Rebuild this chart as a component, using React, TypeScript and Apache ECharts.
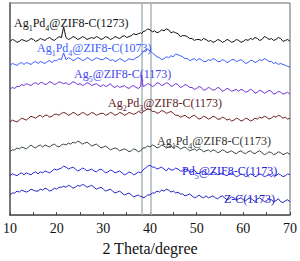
import React, { useEffect, useRef } from "react";
import * as echarts from "echarts";

// 2θ sampling grid (degrees)
const theta = [
  10, 10.5, 11, 11.5, 12, 12.5, 13, 13.5, 14, 14.5, 15, 15.5, 16, 16.5, 17, 17.5, 18, 18.5, 19, 19.5, 20, 20.5, 21,
  21.5,
  22, 22.5, 23, 23.5, 24, 24.5, 25, 25.5, 26, 26.5, 27, 27.5, 28, 28.5, 29, 29.5, 30, 30.5, 31, 31.5, 32, 32.5, 33,
  33.5, 34, 34.5, 35, 35.5, 36, 36.5, 37, 37.5, 38,
  38.2, 38.5,
  39, 39.5, 40, 40.5, 41, 41.5, 42, 42.5, 43, 43.5, 44, 44.5, 45, 45.5, 46, 46.5, 47, 47.5, 48, 48.5, 49, 49.5, 50,
  50.5, 51, 51.5, 52, 52.5, 53, 53.5, 54, 54.5, 55, 55.5, 56, 56.5, 57, 57.5, 58, 58.5, 59, 59.5, 60, 60.5, 61, 61.5,
  62, 62.5, 63, 63.5, 64, 64.5, 65, 65.5, 66, 66.5, 67, 67.5, 68, 68.5, 69, 69.5, 70,
];

// stacked intensities (offset, arbitrary units)
const ag1pd4_1273 = [
  181, 183, 182, 180, 181, 183, 182, 181, 182, 184, 183, 181, 182, 184, 183, 182, 184, 185, 183, 182, 184, 186, 185,
  196,
  185, 183, 184, 186, 185, 183, 184, 186, 185, 183, 184, 185, 184, 186, 185, 183, 184, 186, 185, 183, 184, 186, 185,
  184, 186, 187, 185, 186, 187, 189, 188, 189, 190,
  189, 191,
  192, 194, 193, 191, 192, 190, 191, 193, 192, 194, 193, 190, 191, 190, 189, 186, 187, 187, 186, 184, 184, 182, 183,
  183, 182, 184, 183, 181, 182, 180, 181, 183, 182, 180, 181, 183, 182, 180, 181, 183, 182, 180, 181, 183, 182, 184,
  183, 185, 184, 182, 183, 186, 185, 183, 184, 182, 183, 185, 184, 181, 182, 183, 181,
];
const ag1pd4_1073 = [
  156, 158, 157, 156, 158, 159, 157, 159, 158, 157, 159, 160, 158, 160, 159, 158, 160, 161, 159, 161, 161, 163, 162,
  169,
  162, 164, 163, 161, 162, 164, 163, 161, 162, 164, 163, 161, 162, 164, 163, 162, 162, 164, 163, 161, 162, 160, 161,
  163, 162, 160, 161, 163, 162, 162, 164, 165, 167,
  168, 170,
  172, 173, 171, 169, 167, 165, 164, 162, 163, 165, 164, 166, 165, 168, 167, 166, 165, 163, 163, 161, 162, 163, 161,
  163, 162, 160, 160, 162, 161, 163, 162, 160, 160, 162, 161, 159, 160, 162, 162, 160, 161, 162, 160, 158, 159, 161,
  161, 159, 160, 162, 161, 163, 162, 160, 160, 158, 159, 157, 158, 157, 156, 155, 154,
];
const ag5_1173 = [
  131, 133, 132, 134, 134, 136, 135, 137, 136, 135, 137, 138, 136, 138, 138, 136, 137, 139, 138, 136, 137, 139, 138,
  137,
  138, 136, 137, 139, 138, 136, 137, 135, 136, 138, 137, 135, 136, 137, 135, 134, 136, 134, 135, 137, 134, 133, 135,
  133, 134, 135, 133, 132, 134, 135, 133, 132, 134,
  146, 134,
  135, 137, 136, 134, 135, 138, 137, 135, 136, 138, 137, 134, 135, 137, 136, 133, 134, 136, 135, 133, 133, 131, 132,
  134, 133, 130, 131, 133, 132, 130, 131, 133, 132, 129, 130, 132, 131, 129, 130, 131, 129, 131, 130, 128, 129, 131,
  130, 127, 128, 130, 129, 127, 128, 130, 129, 126, 127, 129, 128, 126, 127, 128, 126,
];
const ag2pd3_1173 = [
  97, 99, 98, 97, 99, 101, 100, 99, 101, 103, 102, 101, 103, 104, 102, 104, 104, 102, 103, 105, 105, 104, 106,
  107,
  106, 104, 105, 107, 106, 104, 105, 107, 106, 104, 105, 107, 106, 104, 105, 106, 106, 104, 105, 107, 106, 104, 105,
  107, 106, 104, 105, 107, 106, 105, 106, 108, 107,
  106, 108,
  109, 111, 110, 108, 108, 106, 107, 109, 108, 106, 107, 108, 106, 104, 104, 102, 103, 104, 102, 101, 103, 104, 102,
  100, 101, 103, 102, 100, 101, 103, 102, 100, 100, 102, 101, 99, 100, 98, 99, 101, 100, 98, 99, 101, 100, 98,
  99, 101, 100, 102, 101, 103, 102, 100, 101, 103, 102, 104, 103, 101, 102, 100, 101,
];
const ag1pd4_1173 = [
  66, 68, 68, 70, 69, 71, 70, 69, 71, 73, 71, 70, 72, 73, 71, 73, 72, 71, 73, 74, 72, 71, 73,
  74,
  73, 75, 74, 76, 75, 77, 76, 74, 75, 76, 74, 72, 73, 74, 72, 70, 71, 72, 70, 68, 69, 70, 69,
  67, 68, 69, 68, 66, 67, 69, 68, 66, 67,
  68, 70,
  70, 72, 71, 73, 72, 70, 71, 73, 72, 70, 71, 72, 70, 72, 71, 69, 70, 71, 69, 67, 68, 69, 67,
  69, 68, 66, 67, 68, 66, 68, 67, 65, 66, 68, 67, 65, 66, 67, 65, 64, 66, 67, 65, 64, 66, 67,
  65, 64, 66, 67, 65, 63, 64, 66, 65, 63, 64, 66, 65, 63, 64, 65, 63,
];
const pd5_1173 = [
  41, 43, 42, 41, 43, 44, 42, 44, 43, 42, 44, 45, 43, 45, 44, 46, 45, 44, 46, 48, 47, 48, 49,
  51,
  50, 48, 49, 50, 48, 46, 47, 49, 48, 46, 47, 48, 46, 45, 47, 48, 46, 44, 45, 47, 46, 44, 45,
  46, 44, 42, 43, 45, 44, 42, 43, 45, 44,
  45, 47,
  49, 51, 52, 50, 50, 48, 49, 50, 48, 46, 49, 47, 47, 49, 48, 46, 46, 48, 47, 45, 45, 47, 44,
  43, 45, 46, 44, 42, 43, 45, 44, 42, 43, 44, 42, 41, 43, 44, 42, 40, 41, 43, 42, 40, 41, 43,
  42, 40, 41, 43, 42, 40, 41, 42, 40, 42, 41, 43, 42, 40, 41, 43, 42,
];
const zc_1173 = [
  21, 23, 23, 25, 24, 26, 25, 24, 25, 27, 26, 25, 25, 27, 26, 28, 27, 25, 26, 28, 27, 29, 29,
  30,
  29, 31, 30, 28, 29, 31, 30, 32, 31, 29, 30, 31, 29, 27, 28, 29, 27, 25, 26, 27, 25, 23, 24,
  25, 23, 21, 22, 23, 21, 19, 20, 21, 19,
  20, 18,
  19, 21, 21, 23, 23, 25, 24, 26, 25, 27, 26, 24, 25, 23, 24, 22, 22, 20, 21, 22, 20, 18, 19,
  21, 19, 18, 20, 18, 19, 20, 18, 17, 19, 20, 18, 16, 17, 19, 18, 16, 17, 18, 16, 15, 17, 18,
  16, 14, 17, 18, 16, 14, 15, 17, 16, 14, 15, 17, 14, 13, 15, 16, 14,
];

// reference lines: Ag(111), Pd(111)
const refLines = [38.2, 40.1];

const xTicks = { min: 10, max: 70, interval: 10 };

const seriesDefs = [
  { name: "Ag1Pd4@ZIF8-C(1273)", data: ag1pd4_1273, color: "#111111" },
  { name: "Ag1Pd4@ZIF8-C(1073)", data: ag1pd4_1073, color: "#3a5cff" },
  { name: "Ag5@ZIF8-C(1173)", data: ag5_1173, color: "#7030dc" },
  { name: "Ag2Pd3@ZIF8-C(1173)", data: ag2pd3_1173, color: "#6a1f22" },
  { name: "Ag1Pd4@ZIF8-C(1173)", data: ag1pd4_1173, color: "#3a4646" },
  { name: "Pd5@ZIF8-C(1173)", data: pd5_1173, color: "#2a2ae0" },
  { name: "Z-C(1173)", data: zc_1173, color: "#2424c4" },
];

// labels: text parts [main, sub, main, sub, ...]
const labelDefs = [
  { parts: ["Ag", "1", "Pd", "4", "@ZIF8-C(1273)"], x: 14, y: 23, color: "#111111" },
  { parts: ["Ag", "1", "Pd", "4", "@ZIF8-C(1073)"], x: 37, y: 48, color: "#3a5cff" },
  { parts: ["Ag", "5", "@ZIF8-C(1173)"], x: 74, y: 74, color: "#4444ee" },
  { parts: ["Ag", "2", "Pd", "3", "@ZIF8-C(1173)"], x: 108, y: 103, color: "#5a1a1e" },
  { parts: ["Ag", "1", "Pd", "4", "@ZIF8-C(1173)"], x: 157, y: 141, color: "#333333" },
  { parts: ["Pd", "5", "@ZIF8-C(1173)"], x: 182, y: 171, color: "#2222dd" },
  { parts: ["Z-C(1173)"], x: 224, y: 199, color: "#2222cc" },
];

const FONT = "'Liberation Serif', 'Times New Roman', serif";

export default function App() {
  const ref = useRef<HTMLDivElement>(null);

  useEffect(() => {
    if (!ref.current) return;
    const chart = echarts.init(ref.current, undefined, { renderer: "svg" });

    const series: any[] = seriesDefs.map((s, idx) => ({
      type: "line",
      name: s.name,
      data: theta.map((t, i) => [t, s.data[i]]),
      showSymbol: false,
      symbol: "none",
      lineStyle: { color: s.color, width: 1 },
      z: 3,
      ...(idx === 0
        ? {
            markLine: {
              silent: true,
              symbol: "none",
              label: { show: false },
              lineStyle: { color: "#a8b6bf", width: 1.5, type: "solid" },
              data: refLines.map((v) => ({ xAxis: v })),
              z: 1,
            },
          }
        : {}),
    }));

    const graphic = labelDefs.map((l) => {
      const rich: any = {};
      rich.m = { fontSize: 12, fontFamily: FONT, fill: l.color, verticalAlign: "middle", lineHeight: 18 };
      rich.s = { fontSize: 8, fontFamily: FONT, fill: l.color, verticalAlign: "bottom", lineHeight: 18 };
      const text = l.parts
        .map((p, i) => (i % 2 === 0 ? `{m|${p}}` : `{s|${p}}`))
        .join("");
      return {
        type: "text",
        x: l.x,
        y: l.y,
        z: 10,
        style: {
          text,
          rich,
          fill: l.color,
          font: `12px ${FONT}`,
          align: "left",
          verticalAlign: "middle",
        },
      };
    });

    chart.setOption({
      animation: false,
      grid: {
        left: 6,
        right: 8,
        top: 3,
        bottom: 37,
        show: true,
        borderColor: "#666",
        borderWidth: 1,
        backgroundColor: "transparent",
      },
      xAxis: {
        type: "value",
        min: xTicks.min,
        max: xTicks.max,
        interval: xTicks.interval,
        name: "2 Theta/degree",
        nameLocation: "middle",
        nameGap: 21,
        nameTextStyle: { fontFamily: FONT, fontSize: 16, color: "#111" },
        axisLine: { show: true, lineStyle: { color: "#555", width: 1.5 } },
        axisTick: { show: true, inside: true, length: 3, lineStyle: { color: "#444" } },
        minorTick: { show: true, splitNumber: 2, length: 3, lineStyle: { color: "#444" } },
        axisLabel: { fontFamily: FONT, fontSize: 14, color: "#111", margin: 6 },
        splitLine: { show: false },
      },
      yAxis: {
        type: "value",
        min: 0,
        max: 221,
        show: true,
        axisLine: { show: true, lineStyle: { color: "#777", width: 2 } },
        axisTick: { show: false },
        axisLabel: { show: false },
        splitLine: { show: false },
      },
      series,
      graphic,
    });

    return () => chart.dispose();
  }, []);

  return (
    <div
      ref={ref}
      style={{ position: "fixed", left: 0, top: 0, width: 300, height: 261, background: "#fff" }}
    />
  );
}
